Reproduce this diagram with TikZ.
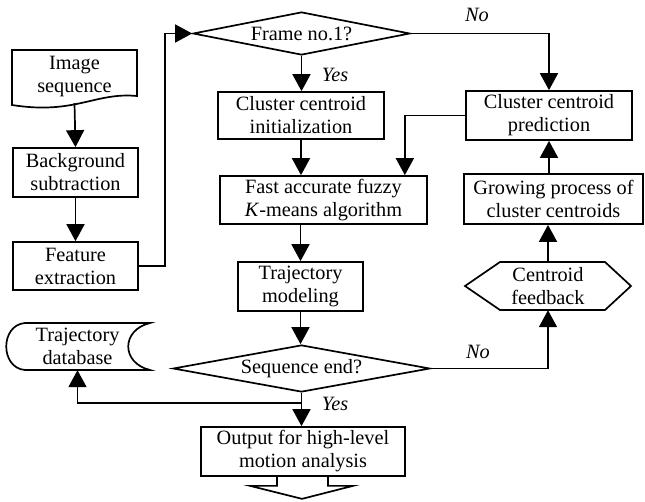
\documentclass[tikz,border=0pt]{standalone}
\usepackage{fontspec}
\setmainfont{Liberation Serif}
\usetikzlibrary{arrows.meta,shapes.geometric,calc}
\begin{document}
\begin{tikzpicture}[x=1pt,y=-1pt,
  every node/.style={font=\fontsize{20.3}{23}\selectfont, align=center, inner sep=0pt},
  box/.style={draw, line width=1.7pt, rectangle},
  dia/.style={draw, line width=1.7pt, diamond, aspect=5},
  arr/.style={line width=1.7pt, -{Triangle[width=18pt,length=17pt]}},
  ln/.style={line width=1.7pt, line join=miter},
  lab/.style={font=\fontsize{20.3}{23}\selectfont\itshape}
]
\useasboundingbox (0,0) rectangle (645,501);

% left column
\node[minimum width=125pt, minimum height=53pt] (img) at (74.5,76.5) {Image\\sequence};
\draw[ln] (12,50) -- (137,50) -- (137,96) .. controls (95,92) and (75,115) .. (12,105) -- cycle;
\node[box, minimum width=125pt, minimum height=49pt] (bg) at (75.5,172.5) {Background\\subtraction};
\node[box, minimum width=125pt, minimum height=48pt] (fe) at (75.5,266) {Feature\\extraction};
\node[minimum width=145pt, minimum height=47pt] (db) at (77.5,346.5) {Trajectory\\database};
\draw[ln] (25,323) -- (150,323) .. controls (121,330) and (121,363) .. (150,370) -- (25,370) .. controls (0,368) and (0,325) .. (25,323) -- cycle;

% middle column
\node[dia, minimum width=217pt, minimum height=43pt] (frame) at (301.5,33.5) {Frame no.1?};
\node[box, minimum width=166pt, minimum height=47pt] (init) at (301,115.5) {Cluster centroid\\initialization};
\node[box, minimum width=207pt, minimum height=48pt] (fast) at (323.5,200) {Fast accurate fuzzy\\\textit{K}-means algorithm};
\node[box, minimum width=125pt, minimum height=49pt] (traj) at (300.5,286.5) {Trajectory\\modeling};
\node[dia, minimum width=257pt, minimum height=47pt] (seq) at (301.5,368.5) {Sequence end?};
\node[box, minimum width=204pt, minimum height=49pt] (out) at (303,451.5) {Output for high-level\\motion analysis};
\draw[ln] ([xshift=-26pt]out.south) -- ++(0,9) -- ++(-27,0) -- ++(52,13) -- ++(51,-13) -- ++(-25,0) -- ++(0,-9);

% right column
\node[box, minimum width=166pt, minimum height=49pt] (pred) at (549,115.5) {Cluster centroid\\prediction};
\node[box, minimum width=179pt, minimum height=50pt] (grow) at (553.5,199) {Growing process of\\cluster centroids};
\node[minimum width=166pt, minimum height=48pt] (fb) at (548,286) {Centroid\\feedback};
\draw[ln] (465,286) -- (500,262) -- (605,262) -- (631,286) -- (605,310) -- (500,310) -- cycle;

% labels
\node[lab] (yes1) at (335,75) {Yes};
\node[lab] (no1) at (477,15) {No};
\node[lab] (no2) at (478,352) {No};
\node[lab] (yes2) at (335,404) {Yes};

% connectors
\draw[arr] (img.south) -- (bg.north);
\draw[arr] (bg.south) -- (fe.north);
\draw[arr] (fe.east) -- ++(26,0) |- (frame.west);
\draw[arr] (frame.south) -- (frame.south |- init.north);
\draw[arr] (frame.east) -| (pred.north);
\draw[arr] (init.south) -- (init.south |- fast.north);
\draw[arr] (pred.west) -| ([xshift=-23pt]fast.north east);
\draw[arr] (fast.south -| traj.north) -- (traj.north);
\draw[arr] (traj.south) -- (traj.south |- seq.north);
\draw[arr] (seq.east) -| (fb.south);
\draw[arr] (fb.north) -- (fb.north |- grow.south);
\draw[arr] (pred.south |- grow.north) -- (pred.south);
\draw[arr] (seq.south) -- (seq.south |- out.north);
\coordinate (split) at ($(seq.south)+(0,10)$);
\draw[arr] (split) -| (db.south);
\end{tikzpicture}
\end{document}
